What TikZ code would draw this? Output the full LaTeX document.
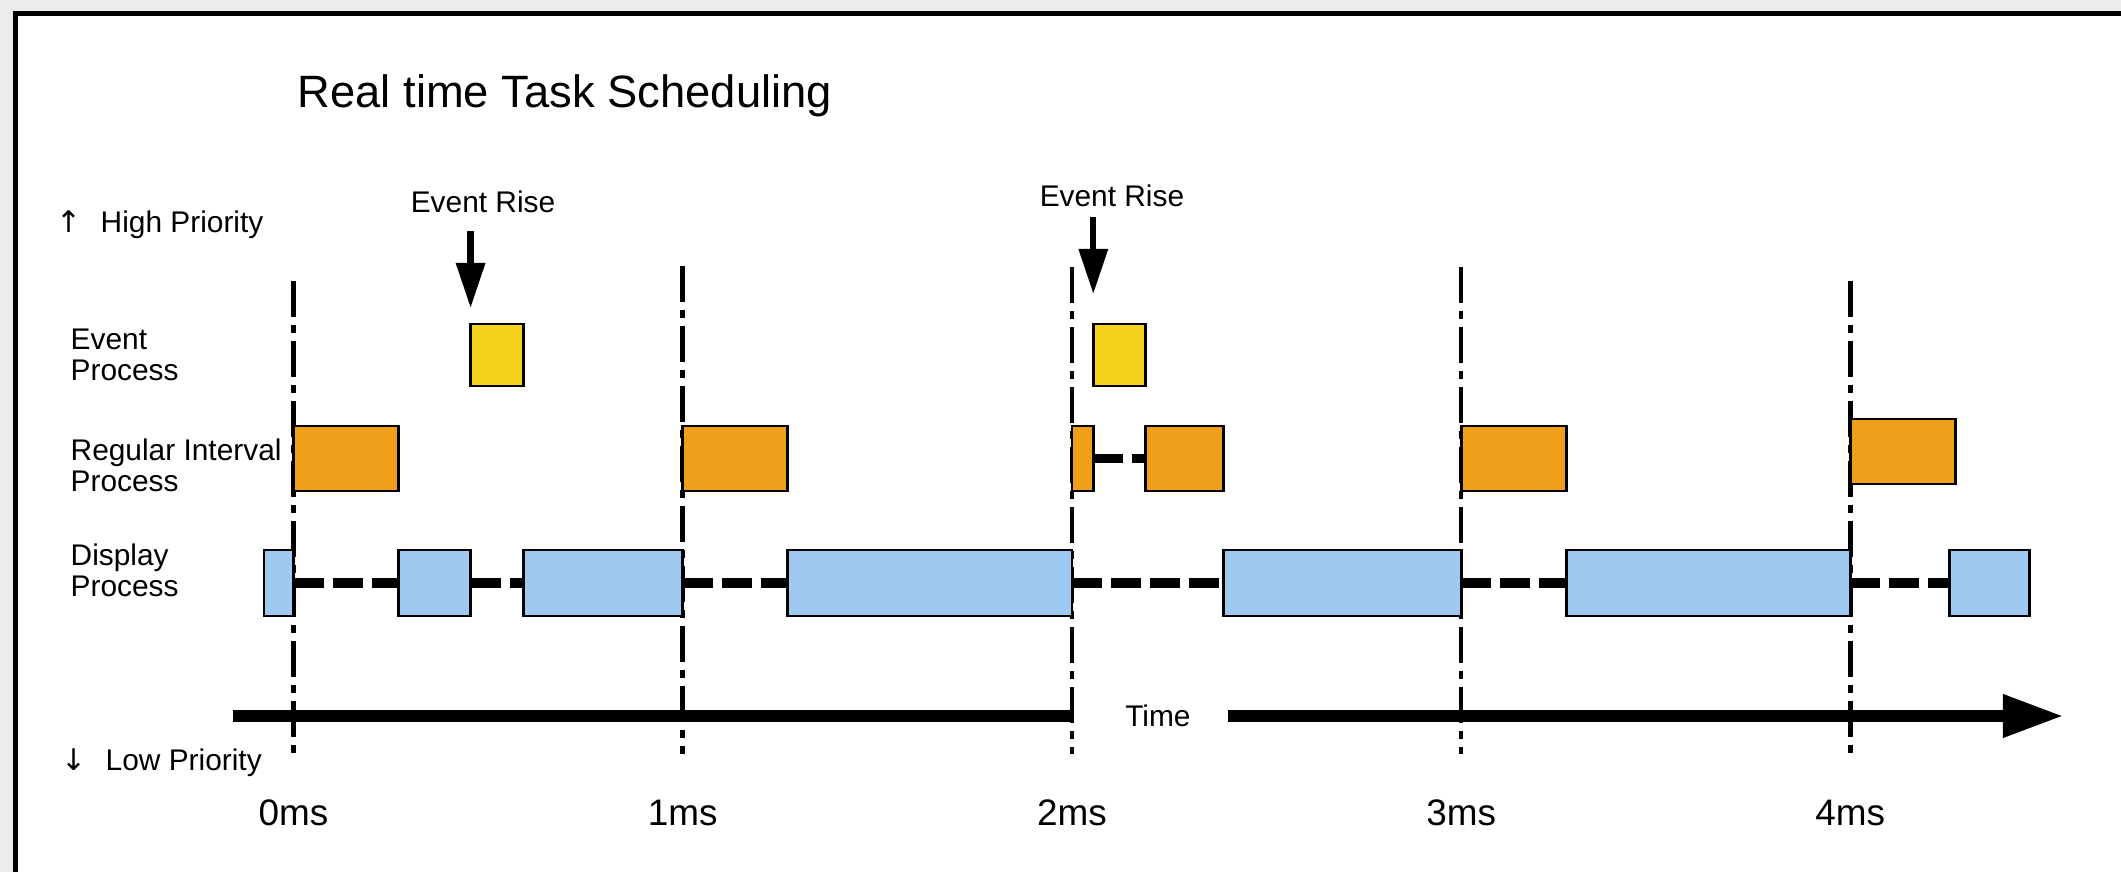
\documentclass[tikz,border=0pt]{standalone}
\usepackage{fontspec}
\setmainfont{Liberation Sans}
\newfontfamily\symfont{DejaVu Sans}
\usetikzlibrary{arrows.meta,fit}
\definecolor{evyellow}{RGB}{245,210,28}
\definecolor{rgorange}{RGB}{240,159,26}
\definecolor{dpblue}{RGB}{160,201,241}
\def\taskbox[#1](#2)(#3:#4:#5:#6){\node[#1, fit={(#3,#5) (#4,#6)}] (#2) {};}
\tikzset{
	tbox/.style={draw=black, line width=0.8pt, inner sep=0pt, outer sep=0pt},
	evbox/.style={tbox, fill=evyellow},
	rgbox/.style={tbox, fill=rgorange},
	dpbox/.style={tbox, fill=dpblue},
	lbl/.style={font=\fontsize{8.5}{8.8}\selectfont, inner sep=0pt},
	ticklbl/.style={font=\fontsize{10.5}{12}\selectfont, inner sep=0pt},
	msline/.style={line width=1.3pt, dash pattern=on 3.6mm off 0.8mm on 0.8mm off 0.8mm},
	waitline/.style={line width=2.8pt, dash pattern=on 3mm off 0.9mm},
	risearrow/.style={line width=1.8pt, -{Triangle[length=4.5mm,width=2.8mm]}},
	axisline/.style={line width=3.6pt}
}

\begin{document}
\begin{tikzpicture}
		%%%%% START %%%%%
		\useasboundingbox (0,0) rectangle (21.21,8.72);
		\fill[gray!15] (0,0) rectangle (21.21,8.72);
		\fill[white] (0.13,0) rectangle (21.21,8.61);
		\fill[black] (0.13,0) rectangle (0.18,8.61);
		\fill[black] (0.13,8.56) rectangle (21.21,8.61);
		
		\node[anchor=base west, font=\fontsize{12.9}{15}\selectfont, inner sep=0pt] (title) at (2.97,7.64) {Real time Task Scheduling};
		
		\node[lbl, anchor=west] (hiprio) at (0.56,6.47) {{\symfont ↑}\hspace{0.19cm}High Priority};
		\node[lbl, anchor=west] (loprio) at (0.61,1.09) {{\symfont ↓}\hspace{0.19cm}Low Priority};
		
		\node[lbl, anchor=west, align=left] (evlbl) at (0.70,5.17) {Event\\Process};
		\node[lbl, anchor=west, align=left] (rglbl) at (0.70,4.07) {Regular Interval\\Process};
		\node[lbl, anchor=west, align=left] (dplbl) at (0.70,3.02) {Display\\Process};
		
		\begin{scope}[xshift=2.935cm, x=3.892cm]
		% one unit of x is 1ms
		\draw[msline] (0,5.91) -- (0,1.18);
		\draw[msline] (1,6.06) -- (1,1.18);
		\draw[msline] (2,6.05) -- (2,1.18);
		\draw[msline] (3,6.05) -- (3,1.18);
		\draw[msline] (4,5.91) -- (4,1.18);
		
		\coordinate (axL) at (-0.156,1.56);
		\coordinate (axM) at (2,1.56);
		\node[lbl] (timelbl) at (2.221,1.56) {Time};
		\coordinate (axR) at (2.401,1.56);
		\coordinate (axTip) at (4.549,1.56);
		\draw[axisline] (axL) -- (axM);
		\draw[axisline, -{Triangle[length=6.1mm,width=4mm]}] (axR) -- (axTip);
		
		\taskbox[evbox](ev1)(0.455:0.59:4.86:5.48)
		\taskbox[evbox](ev2)(2.055:2.19:4.86:5.48)
		
		\taskbox[rgbox](rg0)(0:0.27:3.81:4.46)
		\taskbox[rgbox](rg1)(1:1.27:3.81:4.46)
		\taskbox[rgbox](rg2a)(2:2.055:3.81:4.46)
		\taskbox[rgbox](rg2b)(2.19:2.39:3.81:4.46)
		\taskbox[rgbox](rg3)(3:3.27:3.81:4.46)
		\taskbox[rgbox](rg4)(4:4.27:3.88:4.53)
		
		\taskbox[dpbox](dp0)(-0.076:0:2.56:3.22)
		\taskbox[dpbox](dp1)(0.27:0.455:2.56:3.22)
		\taskbox[dpbox](dp2)(0.59:1:2.56:3.22)
		\taskbox[dpbox](dp3)(1.27:2:2.56:3.22)
		\taskbox[dpbox](dp4)(2.39:3:2.56:3.22)
		\taskbox[dpbox](dp5)(3.27:4:2.56:3.22)
		\taskbox[dpbox](dp6)(4.255:4.46:2.56:3.22)
		
		\draw[waitline] (rg2a.east) -- (rg2b.west);
		\draw[waitline] (dp0.east) -- (dp1.west);
		\draw[waitline] (dp1.east) -- (dp2.west);
		\draw[waitline] (dp2.east) -- (dp3.west);
		\draw[waitline] (dp3.east) -- (dp4.west);
		\draw[waitline] (dp4.east) -- (dp5.west);
		\draw[waitline] (dp5.east) -- (dp6.west);
		
		\node[lbl] (rise1) at (0.487,6.70) {Event Rise};
		\node[lbl] (rise2) at (2.103,6.76) {Event Rise};
		\draw[risearrow, shorten <=0.17cm, shorten >=0.16cm] (rise1.south -| ev1.north west) -- (ev1.north west);
		\draw[risearrow, shorten <=0.09cm, shorten >=0.30cm] (rise2.south -| ev2.north west) -- (ev2.north west);
		
		\node[ticklbl] (ms0) at (0,0.59) {0ms};
		\node[ticklbl] (ms1) at (1,0.59) {1ms};
		\node[ticklbl] (ms2) at (2,0.59) {2ms};
		\node[ticklbl] (ms3) at (3,0.59) {3ms};
		\node[ticklbl] (ms4) at (4,0.59) {4ms};
		\end{scope}
		%%%%% END %%%%%
\end{tikzpicture}
\end{document}
